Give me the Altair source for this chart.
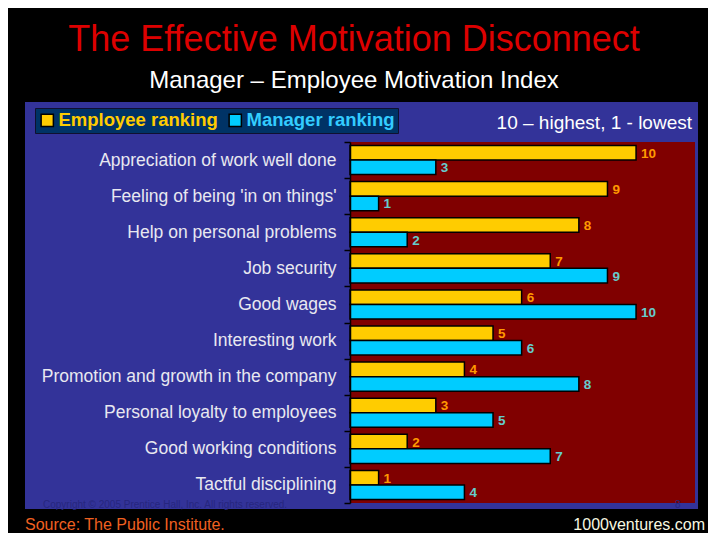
import altair as alt
import pandas as pd

categories = [
    "Appreciation of work well done",
    "Feeling of being 'in on things'",
    "Help on personal problems",
    "Job security",
    "Good wages",
    "Interesting work",
    "Promotion and growth in the company",
    "Personal loyalty to employees",
    "Good working conditions",
    "Tactful disciplining",
]
employee = [10, 9, 8, 7, 6, 5, 4, 3, 2, 1]
manager = [3, 1, 2, 9, 10, 6, 8, 5, 7, 4]
series = ["Employee ranking", "Manager ranking"]

rows = []
for c, e, m in zip(categories, employee, manager):
    rows.append({"factor": c, "series": series[0], "rank": e})
    rows.append({"factor": c, "series": series[1], "rank": m})
df = pd.DataFrame(rows)

W, H = 345, 361
one = pd.DataFrame({"k": [0]})
FONT = "Liberation Sans"

panel = alt.Chart(one).mark_rect(fill="#333399", clip=False).encode(
    x=alt.value(-325), x2=alt.value(348), y=alt.value(-40), y2=alt.value(367)
)
plotbg = alt.Chart(one).mark_rect(fill="#800000").encode(
    x=alt.value(0), x2=alt.value(W), y=alt.value(0), y2=alt.value(H)
)

base = alt.Chart(df).encode(
    y=alt.Y(
        "factor:N",
        sort=categories,
        scale=alt.Scale(paddingInner=0, paddingOuter=0),
        axis=alt.Axis(
            title=None,
            labelFont=FONT,
            labelFontSize=17.5,
            labelColor="#E8E8F0",
            labelPadding=8,
            labelLimit=400,
            tickColor="black",
            tickSize=6,
            tickWidth=1.5,
            tickBand="extent",
            domainColor="black",
            domainWidth=1.5,
            zindex=1,
        ),
    ),
    yOffset=alt.YOffset(
        "series:N", sort=series, scale=alt.Scale(paddingOuter=0.24, paddingInner=0)
    ),
    x=alt.X("rank:Q", scale=alt.Scale(domain=[0, 12.06], nice=False), axis=None),
)

bars = base.mark_bar(stroke="black", strokeWidth=1.5).encode(
    color=alt.Color(
        "series:N",
        sort=series,
        scale=alt.Scale(domain=series, range=["#FFCC00", "#00CCFF"]),
        legend=alt.Legend(
            title=None,
            orient="none",
            legendX=-315,
            legendY=-34,
            direction="horizontal",
            fillColor="#003366",
            strokeColor="#101030",
            padding=3,
            symbolType="square",
            symbolSize=150,
            symbolStrokeColor="black",
            symbolStrokeWidth=1.5,
            labelFont=FONT,
            labelFontSize=18.5,
            labelFontWeight="bold",
            labelColor={"expr": "datum.label == 'Employee ranking' ? '#FFCC00' : '#33CCFF'"},
            labelOffset=2,
            columnPadding=8,
        ),
    )
)

labels = base.mark_text(
    align="left", baseline="middle", dx=5, dy=1, fontSize=13.5, fontWeight="bold", font=FONT
).encode(
    text="rank:Q",
    color=alt.condition(
        alt.datum.series == "Employee ranking", alt.value("#FF9900"), alt.value("#66CCCC")
    ),
)


def note(txt, x, y, color, size, align="left"):
    return alt.Chart(one).mark_text(
        text=txt, align=align, baseline="alphabetic", fontSize=size, font=FONT,
        color=color, clip=False,
    ).encode(x=alt.value(x), y=alt.value(y))


notes = [
    note("10 \u2013 highest, 1 - lowest", 342, -13, "white", 19, "right"),
    note("Copyright \u00a9 2005 Prentice Hall, Inc. All rights reserved.", -307, 366, "#26267e", 10),
    note("8", 325, 366, "#26267e", 10),
    note("Source: The Public Institute.", -325, 388, "#F06020", 16),
    note("1000ventures.com", 355, 388, "#F8F8E0", 16, "right"),
]

chart = alt.layer(panel, plotbg, bars, labels, *notes).properties(
    width=W,
    height=H,
    autosize="none",
    padding={"left": 342, "top": 134, "right": 13, "bottom": 30},
    background="black",
    title=alt.TitleParams(
        text="The Effective Motivation Disconnect",
        subtitle="Manager \u2013 Employee Motivation Index",
        anchor="start",
        frame="group",
        align="center",
        dx=4,
        color="#DD0000",
        font=FONT,
        fontSize=36,
        fontWeight="normal",
        subtitleColor="white",
        subtitleFont=FONT,
        subtitleFontSize=24,
        subtitlePadding=10,
        offset=8,
    ),
).configure_view(stroke=None)

chart.save("out.html", embed_options={"renderer": "svg", "actions": False})
